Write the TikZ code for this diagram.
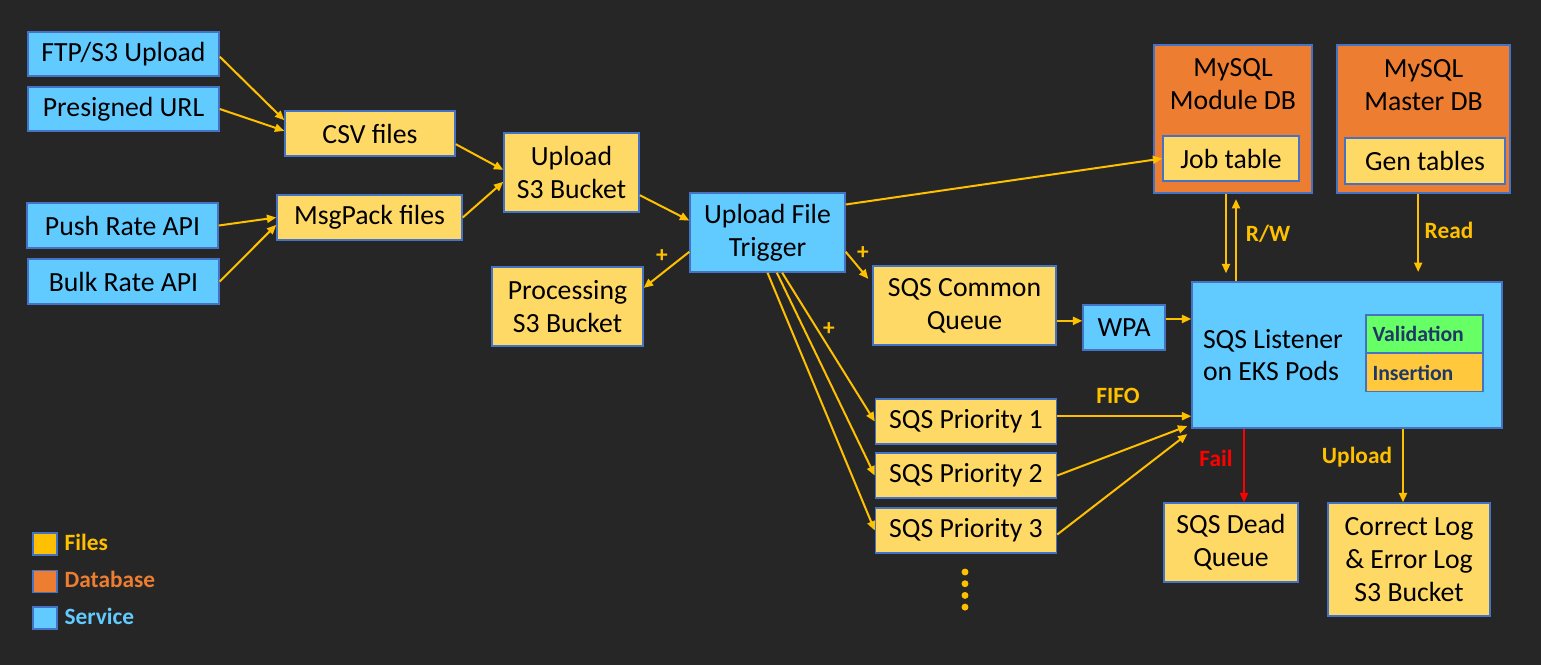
\documentclass[tikz,border=0pt]{standalone}
\usepackage{fontspec}
\setmainfont{Carlito}
\usetikzlibrary{positioning,calc,arrows.meta}
\definecolor{bgdark}{HTML}{262626}
\definecolor{servc}{HTML}{61CBFF}
\definecolor{filec}{HTML}{FFD966}
\definecolor{dbc}{HTML}{ED7D31}
\definecolor{edgec}{HTML}{4472C4}
\definecolor{pilc}{HTML}{FFC000}
\definecolor{navy}{HTML}{1F3864}
\definecolor{validc}{HTML}{66FF66}
\definecolor{insertc}{HTML}{FFC83D}
\tikzset{
	%Define standard arrow tip
	>={Triangle[length=7pt,width=6pt]},
	%Define style for boxes
	box/.style={
		rectangle,
		draw=edgec, line width=1.1pt,
		inner sep=0pt,
		align=center,
		font=\fontsize{20.8}{24.5}\selectfont},
	service/.style={box, fill=servc},
	files/.style={box, fill=filec},
	dbase/.style={box, fill=dbc},
	step2/.style={box, font=\fontsize{16.3}{18}\selectfont\bfseries, text=navy,
		align=flush left, text width=78pt, inner xsep=4.9pt, minimum height=28.5pt},
	% Define arrow style
	pil/.style={
		->,
		pilc,
		line width=1.5pt},
	lbl/.style={font=\fontsize{17.5}{20}\selectfont\bfseries, pilc},
	legsq/.style={rectangle, draw=edgec, line width=1pt,
		minimum width=18pt, minimum height=16.5pt, inner sep=0pt}
}
\begin{document}
\begin{tikzpicture}[x=0.75pt,y=-0.75pt]
	\fill[bgdark] (0,0) rectangle (1541,665);
	\useasboundingbox (0,0) rectangle (1541,665);
	% sources
	\node[service, minimum width=143.25pt, minimum height=33pt] (ftp) at (123.5,54) {FTP/S3 Upload};
	\node[service, minimum width=143.25pt, minimum height=33pt] (presig) at (123.5,109) {Presigned URL};
	\node[service, minimum width=143.25pt, minimum height=33.75pt] (push) at (122.5,225.5) {Push Rate API};
	\node[service, minimum width=143.25pt, minimum height=33.75pt] (bulk) at (123.5,281.5) {Bulk Rate API};
	\node[files, minimum width=127.5pt, minimum height=33.75pt] (csv) at (370,133.5) {CSV files};
	\node[files, minimum width=138.75pt, minimum height=33.75pt] (msgp) at (369.5,217.5) {MsgPack files};
	\node[files, minimum width=101.25pt, minimum height=59.25pt] (ups3) at (571.5,172.5) {Upload\\S3 Bucket};
	\node[service, minimum width=116.25pt, minimum height=59.25pt] (trig) at (767.5,232.5) {Upload File\\Trigger};
	\node[files, minimum width=113.25pt, minimum height=59.25pt] (procs3) at (567.5,306.5) {Processing\\S3 Bucket};
	% queues
	\node[files, minimum width=137.25pt, minimum height=59.25pt] (common) at (964.5,305.5) {SQS Common\\Queue};
	\node[service, minimum width=61.5pt, minimum height=33.75pt] (wpa) at (1124,327.5) {WPA};
	\node[files, minimum width=135.75pt, minimum height=33.75pt] (prio1) at (966,421.5) {SQS Priority 1};
	\node[files, minimum width=135.75pt, minimum height=33.75pt] (prio2) at (966,475.5) {SQS Priority 2};
	\node[files, minimum width=135.75pt, minimum height=33.75pt] (prio3) at (966,530.5) {SQS Priority 3};
	\foreach \dy in {0,11.7,23.4,35.1}
		\fill[pilc] (965,572+\dy) circle (2.6pt);
	% listener
	\node[service, align=flush left, text width=216pt, inner xsep=8.25pt, minimum height=109.5pt] (listener) at (1347,355) {SQS Listener\\on EKS Pods};
	\node[step2, fill=validc] (valid) at (1424.5,334) {Validation};
	\node[step2, fill=insertc] (insert) at (1424.5,372.5) {Insertion};
	% databases
	\node[dbase, minimum width=118.5pt, minimum height=111pt] (moddb) at (1233,119) {};
	\node[box, draw=none] (moddbt) at (1233,84) {MySQL\\Module DB};
	\node[files, minimum width=102pt, minimum height=33.75pt] (jobtbl) at (1231,158.5) {Job table};
	\node[dbase, minimum width=129.75pt, minimum height=111pt] (mastdb) at (1423.5,119) {};
	\node[box, draw=none] (mastdbt) at (1423.5,85) {MySQL\\Master DB};
	\node[files, minimum width=120pt, minimum height=34.5pt] (gentbl) at (1425,161) {Gen tables};
	% outputs
	\node[files, minimum width=100.5pt, minimum height=59.25pt] (dead) at (1231,542.5) {SQS Dead\\Queue};
	\node[files, minimum width=121.5pt, minimum height=84.75pt] (corr) at (1409,559.5) {Correct Log\\\& Error Log\\S3 Bucket};
	% legend
	\node[legsq, fill=pilc] (lfiles) at (45,544) {};
	\node[lbl, anchor=west] (lfilest) at (60,542) {Files};
	\node[legsq, fill=dbc] (ldb) at (45,581.5) {};
	\node[lbl, dbc, anchor=west] (ldbt) at (60,579) {Database};
	\node[legsq, fill=servc] (lserv) at (45,618) {};
	\node[lbl, servc, anchor=west] (lservt) at (60,616) {Service};
	% arrows
	\draw[pil] ([yshift=-2pt]ftp.east) -- ([yshift=10pt]csv.west);
	\draw[pil] (presig.east) -- ([yshift=2pt]csv.west);
	\draw[pil] (push.east) -- (msgp.west);
	\draw[pil] (bulk.east) -- ([yshift=-5.5pt]msgp.west);
	\draw[pil] ([yshift=-8pt]csv.east) -- ([yshift=2pt]ups3.west);
	\draw[pil] (msgp.east) -- ([yshift=-7pt]ups3.west);
	\draw[pil] ([yshift=-17pt]ups3.east) -- ([yshift=9pt]trig.west);
	\draw[pil] ([yshift=-14.5pt]trig.west) -- ([yshift=14pt]procs3.east);
	\draw[pil] ([yshift=-14.5pt]trig.east) -- ([xshift=-3pt,yshift=20pt]common.west);
	\draw[pil] ([yshift=21pt]trig.east) -- (jobtbl.west);
	\draw[pil] ([xshift=11pt]trig.south) -- (prio1.west);
	\draw[pil] ([xshift=7pt]trig.south) -- (prio2.west);
	\draw[pil] (trig.south) -- (prio3.west);
	\node[lbl] (plus1) at (662,256) {+};
	\node[lbl] (plus2) at (863,253) {+};
	\node[lbl] (plus3) at (829,329) {+};
	\coordinate (cw) at ([yshift=-11.5pt]common.east);
	\draw[pil] (cw) -- (cw -| wpa.west);
	\coordinate (ww) at ([yshift=6.4pt]wpa.east);
	\draw[pil] (ww) -- (ww -| listener.west);
	\coordinate (p1) at ([yshift=4pt]prio1.east);
	\draw[pil] (p1) -- (p1 -| listener.west);
	\node[lbl] (fifo) at (1118,396) {FIFO};
	\draw[pil] (prio2.east) -- ([xshift=-3pt,yshift=2pt]listener.south west);
	\draw[pil] ([yshift=-3pt]prio3.east) -- ([xshift=-3pt,yshift=-4pt]listener.south west);
	\coordinate (rwd) at ([xshift=-5.25pt]moddb.south);
	\coordinate (rwu) at ([xshift=2.25pt]moddb.south);
	\draw[pil, shorten >=6pt] (rwd) -- (rwd |- listener.north);
	\draw[pil, shorten >=4pt] (rwu |- listener.north) -- (rwu);
	\node[lbl] (rw) at (1268,234) {R/W};
	\coordinate (rd) at ([xshift=-4pt]mastdb.south);
	\draw[pil, shorten >=7pt] (rd) -- (rd |- listener.north);
	\node[lbl] (read) at (1449,230) {Read};
	\coordinate (fl) at ([xshift=9.75pt]dead.north);
	\draw[pil, red] (fl |- listener.south) -- (fl);
	\node[lbl, red] (fail) at (1216,458) {Fail};
	\coordinate (ul) at ([xshift=-4.5pt]corr.north);
	\draw[pil] (ul |- listener.south) -- (ul);
	\node[lbl] (upl) at (1357,457) {Upload};
\end{tikzpicture}
\end{document}
